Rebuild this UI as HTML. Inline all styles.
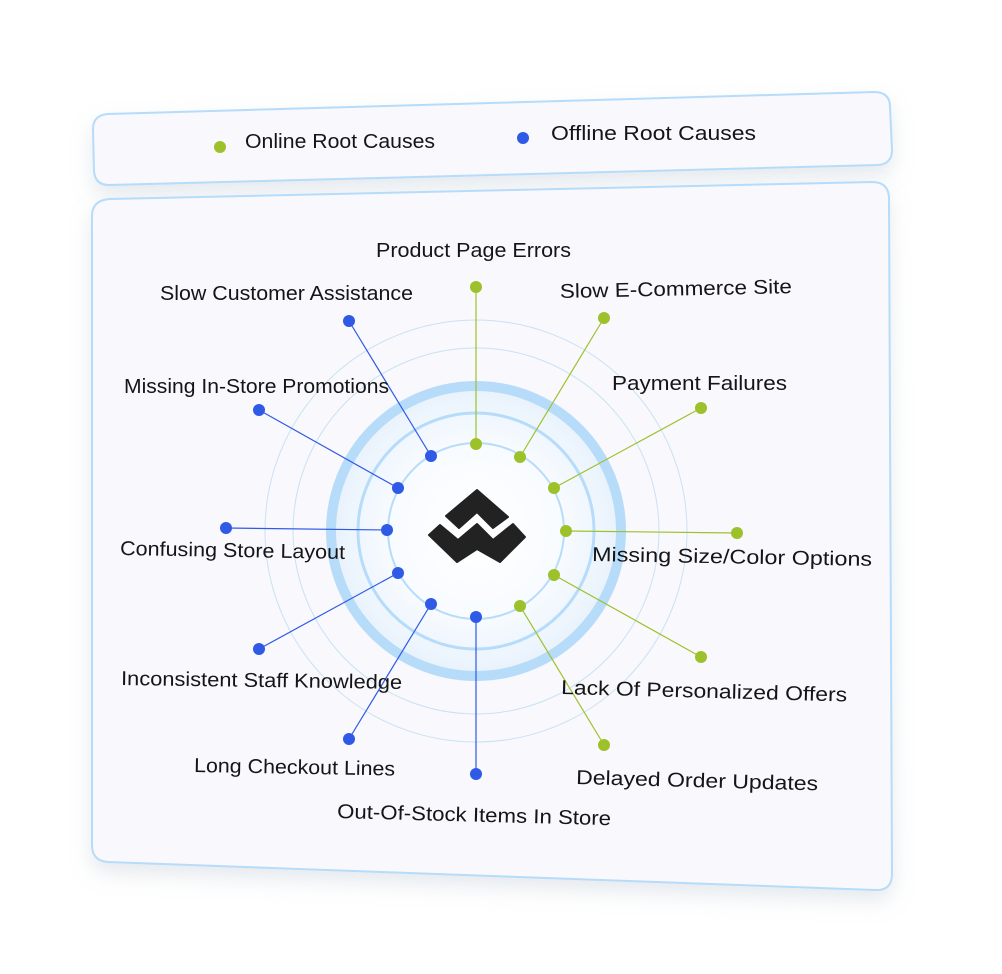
<!DOCTYPE html>
<html><head><meta charset="utf-8"><style>
html,body{margin:0;padding:0;background:#fff;}
svg{display:block;}
text{font-family:"Liberation Sans",sans-serif;font-size:20px;fill:#151515;}
</style></head><body>
<svg width="1002" height="974" viewBox="0 0 1002 974">
<defs>
<radialGradient id="cg" cx="50%" cy="50%" r="50%">
<stop offset="0" stop-color="#ffffff"/><stop offset="0.6" stop-color="#f8fbff"/><stop offset="1" stop-color="#e8f2fc"/>
</radialGradient>
<filter id="sh" x="-10%" y="-10%" width="120%" height="130%"><feDropShadow dx="0" dy="10" stdDeviation="10" flood-color="#9ab" flood-opacity="0.25"/></filter>
</defs>
<path d="M108,114 L874,92 Q890,92 890,107 L892,150 Q892,164 878,165 L109,185 Q95,185 94,171 L93,129 Q93,115 108,114 Z" fill="#f9f8fc" stroke="#b6dcfa" stroke-width="2" filter="url(#sh)"/>
<path d="M110,199 L872,182 Q889,182 889,199 L892,874 Q892,891 875,890 L108,862 Q92,861 92,845 L92,216 Q92,200 110,199 Z" fill="#f9f8fc" stroke="#b6dcfa" stroke-width="2" filter="url(#sh)"/>
<circle cx="220" cy="147" r="6" fill="#9dc12a"/>
<text x="245" y="148" textLength="190" lengthAdjust="spacingAndGlyphs">Online Root Causes</text>
<circle cx="523" cy="138" r="6" fill="#2e5ae6"/>
<text x="551" y="140" textLength="205" lengthAdjust="spacingAndGlyphs">Offline Root Causes</text>
<circle cx="476" cy="531" r="211" fill="none" stroke="#c8e2f5" stroke-width="1"/>
<circle cx="476" cy="531" r="183" fill="none" stroke="#c8e2f5" stroke-width="1"/>
<circle cx="476" cy="531" r="145" fill="url(#cg)" stroke="#b7dcfa" stroke-width="10"/>
<circle cx="476" cy="531" r="118" fill="none" stroke="#b7dcfa" stroke-width="3"/>
<circle cx="476" cy="531" r="88" fill="none" stroke="#b7dcfa" stroke-width="2"/>
<g stroke="#9dc12a" stroke-width="1.2">
<line x1="476" y1="287" x2="476" y2="444"/><line x1="604" y1="318" x2="520" y2="457"/>
<line x1="701" y1="408" x2="554" y2="488"/><line x1="737" y1="533" x2="566" y2="531"/>
<line x1="701" y1="657" x2="554" y2="575"/><line x1="604" y1="745" x2="520" y2="606"/>
</g>
<g stroke="#2e5ae6" stroke-width="1.2">
<line x1="349" y1="321" x2="431" y2="456"/><line x1="259" y1="410" x2="398" y2="488"/>
<line x1="226" y1="528" x2="387" y2="530"/><line x1="259" y1="649" x2="398" y2="573"/>
<line x1="349" y1="739" x2="431" y2="604"/><line x1="476" y1="774" x2="476" y2="617"/>
</g>
<g fill="#9dc12a">
<circle cx="476" cy="287" r="6"/><circle cx="476" cy="444" r="6"/>
<circle cx="604" cy="318" r="6"/><circle cx="520" cy="457" r="6"/>
<circle cx="701" cy="408" r="6"/><circle cx="554" cy="488" r="6"/>
<circle cx="737" cy="533" r="6"/><circle cx="566" cy="531" r="6"/>
<circle cx="701" cy="657" r="6"/><circle cx="554" cy="575" r="6"/>
<circle cx="604" cy="745" r="6"/><circle cx="520" cy="606" r="6"/>
</g>
<g fill="#2e5ae6">
<circle cx="349" cy="321" r="6"/><circle cx="431" cy="456" r="6"/>
<circle cx="259" cy="410" r="6"/><circle cx="398" cy="488" r="6"/>
<circle cx="226" cy="528" r="6"/><circle cx="387" cy="530" r="6"/>
<circle cx="259" cy="649" r="6"/><circle cx="398" cy="573" r="6"/>
<circle cx="349" cy="739" r="6"/><circle cx="431" cy="604" r="6"/>
<circle cx="476" cy="774" r="6"/><circle cx="476" cy="617" r="6"/>
</g>
<g fill="#222" stroke="#222" stroke-width="2" stroke-linejoin="round">
<path d="M446,516 L477,490 L508,517 L493,528 L477,512 L459,528 Z"/>
<path d="M429,535 L440,525 L458,540 L477,524 L493,540 L513,524 L525,537 L500,562 L477,549 L457,562 Z"/>
</g>
<text x="376" y="257" textLength="195" lengthAdjust="spacingAndGlyphs">Product Page Errors</text>
<text x="560" y="298" textLength="232" lengthAdjust="spacingAndGlyphs" transform="rotate(-1.2 560 298)">Slow E-Commerce Site</text>
<text x="160" y="300" textLength="253" lengthAdjust="spacingAndGlyphs">Slow Customer Assistance</text>
<text x="612" y="390" textLength="175" lengthAdjust="spacingAndGlyphs">Payment Failures</text>
<text x="124" y="393" textLength="265" lengthAdjust="spacingAndGlyphs">Missing In-Store Promotions</text>
<text x="120" y="555" textLength="225" lengthAdjust="spacingAndGlyphs" transform="rotate(1 120 555)">Confusing Store Layout</text>
<text x="592" y="561" textLength="280" lengthAdjust="spacingAndGlyphs" transform="rotate(1 592 561)">Missing Size/Color Options</text>
<text x="121" y="685" textLength="281" lengthAdjust="spacingAndGlyphs" transform="rotate(0.8 121 685)">Inconsistent Staff Knowledge</text>
<text x="561" y="694" textLength="286" lengthAdjust="spacingAndGlyphs" transform="rotate(1.5 561 694)">Lack Of Personalized Offers</text>
<text x="194" y="772" textLength="201" lengthAdjust="spacingAndGlyphs" transform="rotate(1 194 772)">Long Checkout Lines</text>
<text x="576" y="784" textLength="242" lengthAdjust="spacingAndGlyphs" transform="rotate(1.5 576 784)">Delayed Order Updates</text>
<text x="337" y="818" textLength="274" lengthAdjust="spacingAndGlyphs" transform="rotate(1.5 337 818)">Out-Of-Stock Items In Store</text>
</svg>
</body></html>
